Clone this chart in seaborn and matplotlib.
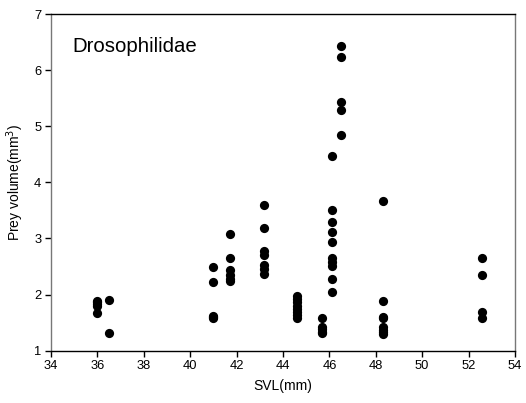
import matplotlib
matplotlib.use("Agg")
import matplotlib.pyplot as plt
import seaborn as sns
import pandas as pd

svl_36_0 = [1.89, 1.86, 1.83, 1.79, 1.67]
svl_36_5 = [1.91, 1.32]
svl_41_0 = [2.49, 2.22, 1.62, 1.60, 1.58]
svl_41_7 = [3.08, 2.66, 2.43, 2.34, 2.27, 2.25]
svl_43_2 = [3.60, 3.18, 2.77, 2.70, 2.52, 2.45, 2.36]
svl_44_6 = [1.97, 1.92, 1.86, 1.80, 1.74, 1.68, 1.63, 1.58]
svl_45_7 = [1.58, 1.42, 1.38, 1.34, 1.31]
svl_46_1 = [4.47, 3.50, 3.30, 3.11, 2.93, 2.66, 2.58, 2.50, 2.28, 2.04]
svl_46_5 = [6.43, 6.23, 5.44, 5.29, 4.84]
svl_48_3 = [3.67, 1.88, 1.60, 1.58, 1.42, 1.37, 1.33, 1.30]
svl_52_6 = [2.65, 2.35, 1.68, 1.58]

groups = {36.0: svl_36_0, 36.5: svl_36_5, 41.0: svl_41_0, 41.7: svl_41_7,
          43.2: svl_43_2, 44.6: svl_44_6, 45.7: svl_45_7, 46.1: svl_46_1,
          46.5: svl_46_5, 48.3: svl_48_3, 52.6: svl_52_6}
rows = [(k, v) for k, vals in groups.items() for v in vals]
df = pd.DataFrame(rows, columns=["SVL", "Prey"])

xticks = list(range(34, 55, 2))
yticks = list(range(1, 8))

sns.set_theme(style="white")
plt.rcParams['font.family'] = ['Liberation Sans', 'DejaVu Sans']
plt.rcParams['text.color'] = 'black'
plt.rcParams['axes.labelcolor'] = 'black'

fig = plt.figure(figsize=(5.26, 4.03), dpi=100)
ax = fig.add_axes([0.097, 0.13, 0.882, 0.835])
sns.scatterplot(data=df, x="SVL", y="Prey", ax=ax, color="black", s=44,
                edgecolor="black", linewidth=0)
ax.set_xlim(34, 54)
ax.set_ylim(1, 7)
ax.set_xticks(xticks)
ax.set_yticks(yticks)
ax.tick_params(axis="both", direction="out", length=4, width=1, labelsize=9.3,
               colors="black", bottom=True, left=True, pad=3)
for name, sp in ax.spines.items():
    sp.set_linewidth(1)
    sp.set_color("black" if name in ("top", "bottom") else "#777777")
ax.set_xlabel("SVL(mm)", fontsize=10, labelpad=5, color="black")
ax.set_ylabel("Prey volume(mm$^3$)", fontsize=10, labelpad=6, color="black")
ax.text(0.047, 0.905, "Drosophilidae", transform=ax.transAxes, fontsize=14.7,
        va="center", ha="left", color="black")
fig.savefig("out.png", dpi=100)
